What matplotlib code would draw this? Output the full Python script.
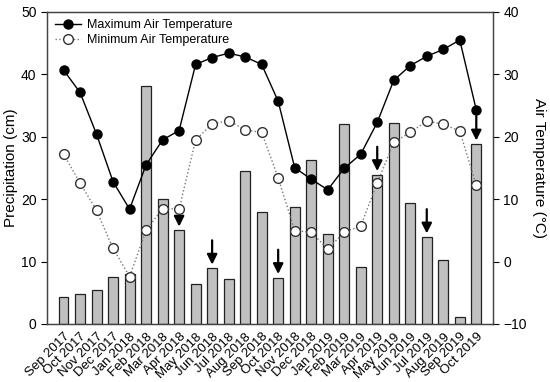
import matplotlib
matplotlib.use("Agg")
import matplotlib.pyplot as plt
import numpy as np

plt.rcParams['font.family'] = ['Liberation Sans', 'DejaVu Sans']

months = ["Sep 2017", "Oct 2017", "Nov 2017", "Dec 2017", "Jan 2018", "Feb 2018",
          "Mar 2018", "Apr 2018", "May 2018", "Jun 2018", "Jul 2018", "Aug 2018",
          "Sep 2018", "Oct 2018", "Nov 2018", "Dec 2018", "Jan 2019", "Feb 2019",
          "Mar 2019", "Apr 2019", "May 2019", "Jun 2019", "Jul 2019", "Aug 2019",
          "Sep 2019", "Oct 2019"]
precip = [4.3, 4.75, 5.45, 7.6, 8.0, 38.1, 20.1, 15.0, 6.4, 8.9, 7.2, 24.5,
          17.9, 7.4, 18.8, 26.2, 14.4, 32.0, 9.1, 23.9, 32.2, 19.4, 13.9, 10.3,
          1.1, 28.8]
tmax = [30.7, 27.1, 20.4, 12.8, 8.4, 15.5, 19.5, 21.0, 31.6, 32.7, 33.4, 32.8,
        31.6, 25.7, 15.05, 13.2, 11.5, 14.95, 17.2, 22.3, 29.05, 31.4, 32.9, 34.0,
        35.5, 24.3]
tmin = [17.2, 12.6, 8.2, 2.1, -2.4, 5.0, 8.5, 8.4, 19.5, 22.05, 22.6, 21.1,
        20.7, 13.4, 4.96, 4.7, 2.0, 4.7, 5.7, 12.6, 19.1, 20.7, 22.5, 22.05,
        20.9, 12.2]
arrow_months = ["Apr 2018", "Jun 2018", "Oct 2018", "Apr 2019", "Jul 2019", "Oct 2019"]

x = np.arange(len(months))

fig = plt.figure(figsize=(5.5, 3.82), dpi=100)
ax = fig.add_axes([0.0855, 0.152, 0.8105, 0.8166])
ax.bar(x, precip, width=0.6, color='#c0c0c0', edgecolor='#222222', linewidth=0.9, zorder=2)
ax.set_xlim(-1, len(months))
ax.set_ylim(0, 50)
ax.set_yticks([0, 10, 20, 30, 40, 50])
ax.set_xticks(x)
ax.set_xticklabels(months, rotation=45, ha='right', rotation_mode='anchor', fontsize=9.5)
ax.tick_params(axis='x', length=0, pad=5)
ax.tick_params(axis='y', direction='out', length=4, labelsize=10, width=0.8)
ax.set_ylabel("Precipitation (cm)", fontsize=11, labelpad=2)

for m in arrow_months:
    i = months.index(m)
    v = precip[i]
    length = 2.6 if m == "Apr 2018" else 3.9
    ax.annotate("", xy=(i, v + 0.6), xytext=(i, v + 0.6 + length),
                arrowprops=dict(arrowstyle='-|>', color='black', lw=1.6,
                                mutation_scale=15, shrinkA=0, shrinkB=0), zorder=5)

ax2 = ax.twinx()
ax2.set_ylim(-10, 40)
ax2.set_yticks([-10, 0, 10, 20, 30, 40])
ax2.set_yticklabels(["\u221210", "0", "10", "20", "30", "40"])
ax2.tick_params(axis='y', direction='out', length=4, labelsize=10, width=0.8)
l1, = ax2.plot(x, tmax, '-o', color='black', markersize=6.5, linewidth=1.0,
               markerfacecolor='black', label='Maximum Air Temperature', zorder=4)
l2, = ax2.plot(x, tmin, ':o', color='#777777', markersize=7, linewidth=1.0,
               markerfacecolor='white', markeredgecolor='#333333',
               label='Minimum Air Temperature', zorder=4)
ax2.set_ylabel("Air Temperature (\u00b0C)", fontsize=11, rotation=270, labelpad=14)

for a in (ax, ax2):
    for s in a.spines.values():
        s.set_color('#444444')
        s.set_linewidth(0.9)

ax2.legend(handles=[l1, l2], loc='upper left', frameon=False, fontsize=9,
           handlelength=2.1, borderaxespad=0.2, borderpad=0.4, labelspacing=0.2,
           handletextpad=0.5)

fig.savefig("out.png", dpi=100)
